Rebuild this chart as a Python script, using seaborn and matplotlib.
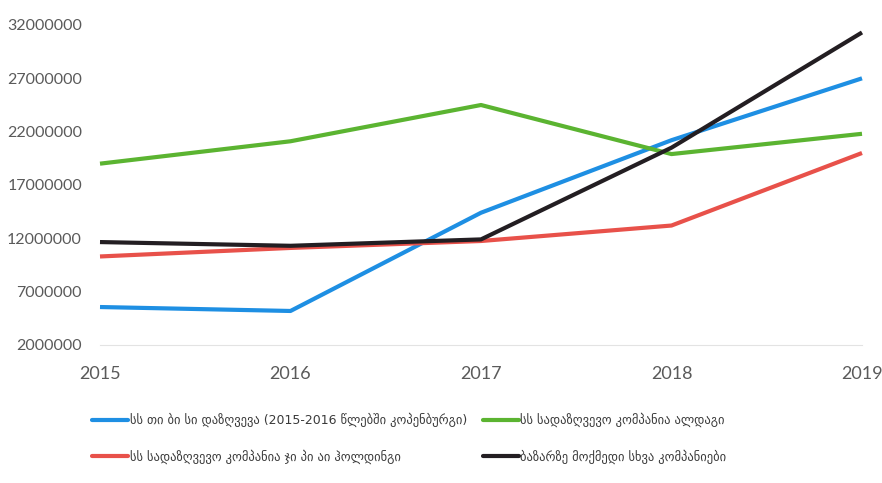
import matplotlib
matplotlib.use("Agg")
import matplotlib.pyplot as plt
import seaborn as sns
import pandas as pd

years = [2015, 2016, 2017, 2018, 2019]

tbc = [5560000, 5190000, 14400000, 21200000, 27000000]
aldagi = [19000000, 21100000, 24500000, 19900000, 21800000]
gpi = [10300000, 11100000, 11750000, 13200000, 20000000]
others = [11650000, 11300000, 11900000, 20500000, 31300000]

names = [
    "სს თი ბი სი დაზღვევა (2015-2016 წლებში კოპენბურგი)",
    "სს სადაზღვევო კომპანია ჯი პი აი ჰოლდინგი",
    "სს სადაზღვევო კომპანია ალდაგი",
    "ბაზარზე მოქმედი სხვა კომპანიები",
]
colors = ["#1E8FE3", "#E8514A", "#5BB431", "#231E22"]
y_ticks = [2000000, 7000000, 12000000, 17000000, 22000000, 27000000, 32000000]

series = [tbc, gpi, aldagi, others]
df = pd.DataFrame({
    "year": years * len(series),
    "value": [v for s in series for v in s],
    "company": [n for n in names for _ in years],
})

sns.set_theme(style="white")
plt.rcParams["font.family"] = ["Lato", "DejaVu Sans"]

fig = plt.figure(figsize=(8.82, 4.83), dpi=100)
W, H = 882, 483
ax = fig.add_axes([100 / W, 1 - 345 / H, 762 / W, 320 / H])

sns.lineplot(data=df, x="year", y="value", hue="company", hue_order=names,
             palette=colors, linewidth=3.0, ax=ax, legend=False)
for ln in ax.get_lines():
    ln.set_clip_on(False)
    ln.set_solid_capstyle("butt")

ax.set_xlim(2015, 2019)
ax.set_ylim(2000000, 32000000)
ax.set_xticks(years)
ax.set_xticklabels([str(y) for y in years])
ax.set_yticks(y_ticks)
ax.set_yticklabels([str(v) for v in y_ticks])
ax.set_xlabel("")
ax.set_ylabel("")

for s in ["top", "right", "left"]:
    ax.spines[s].set_visible(False)
ax.spines["bottom"].set_color("#e3e3e3")
ax.spines["bottom"].set_linewidth(0.8)

ax.tick_params(axis="y", labelsize=11.5, labelcolor="#5a5a5a", length=0, pad=13)
ax.tick_params(axis="x", labelsize=13, labelcolor="#5a5a5a", length=0, pad=15)

handles = [plt.Line2D([], [], color=c, linewidth=3.0) for c in colors]

legend_kw = dict(frameon=False, handlelength=2.9, handletextpad=0.1,
                 labelspacing=1.75, borderpad=0, borderaxespad=0,
                 prop={"family": ["DejaVu Sans"], "size": 9},
                 labelcolor="#3a3a3a", loc="upper left")
fig.legend(handles[:2], names[:2], bbox_to_anchor=(92 / W, 1 - 413 / H), **legend_kw)
fig.legend(handles[2:], names[2:], bbox_to_anchor=(483 / W, 1 - 413 / H), **legend_kw)

fig.savefig("out.png", dpi=100, facecolor="white")
